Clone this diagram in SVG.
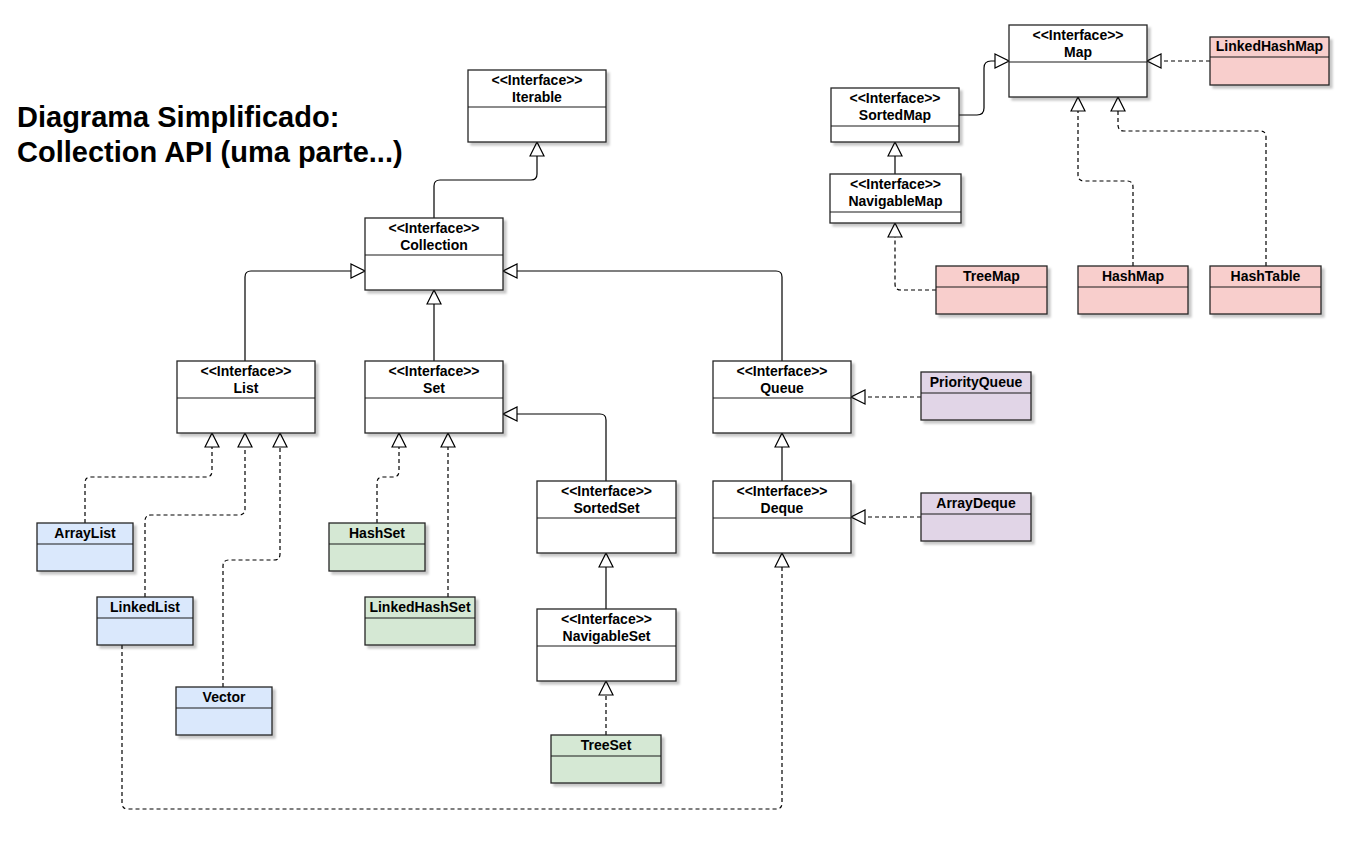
<svg xmlns="http://www.w3.org/2000/svg" width="1358" height="843" viewBox="0 0 1358 843">
<defs>
<style>
.box{stroke:#262626;stroke-width:1.3}
.iface{fill:#ffffff}
.blue{fill:#dae8fc}
.green{fill:#d5e8d4}
.pink{fill:#f8cecc}
.purple{fill:#e1d5e7}
.div{stroke:#1a1a1a;stroke-width:1.2}
.t{font-family:"Liberation Sans",Arial,Helvetica,sans-serif;font-size:14px;font-weight:bold;fill:#000;text-anchor:middle}
.title{font-family:"Liberation Sans",Arial,Helvetica,sans-serif;font-size:29px;font-weight:bold;fill:#000}
.c{fill:none;stroke:#000;stroke-width:1.2;marker-end:url(#tri)}
.d{stroke-dasharray:4 3}
</style>
<filter id="sh" x="-10%" y="-10%" width="130%" height="140%">
<feDropShadow dx="3" dy="3" stdDeviation="0.8" flood-color="#000" flood-opacity="0.22"/>
</filter>
<marker id="tri" markerUnits="userSpaceOnUse" viewBox="-1 -1 16 16" markerWidth="16" markerHeight="16" refX="14" refY="7" orient="auto">
<path d="M0,0 L14,7 L0,14 Z" fill="#fff" stroke="#000" stroke-width="1.2" stroke-dasharray="none"/>
</marker>
</defs>
<rect x="0" y="0" width="1358" height="843" fill="#fff"/>

<g id="title">
<text class="title" x="17" y="127">Diagrama Simplificado:</text>
<text class="title" x="17" y="162">Collection API (uma parte...)</text>
</g>

<g id="connectors">
<path class="c" d="M434,218 V186 Q434,180 440,180 H531 Q537,180 537,174 V142"/>
<path class="c" d="M245,361 V277 Q245,271 251,271 H365"/>
<path class="c" d="M434,361 V290"/>
<path class="c" d="M782,361 V277 Q782,271 776,271 H503"/>
<path class="c" d="M606,481 V420 Q606,414 600,414 H503"/>
<path class="c" d="M782,481 V433"/>
<path class="c" d="M606,609 V553"/>
<path class="c" d="M959,115 H977 Q984,115 984,108 V68 Q984,61 991,61 H1009"/>
<path class="c" d="M895,174 V142"/>
<path class="c d" d="M606,735 V681"/>
<path class="c d" d="M921,397 H851"/>
<path class="c d" d="M921,517 H851"/>
<path class="c d" d="M85,523 V483 Q85,477 91,477 H206 Q212,477 212,471 V433"/>
<path class="c d" d="M145,597 V521 Q145,515 151,515 H239 Q245,515 245,509 V433"/>
<path class="c d" d="M223,687 V566 Q223,560 229,560 H274 Q280,560 280,554 V433"/>
<path class="c d" d="M377,523 V483 Q377,477 383,477 H393 Q399,477 399,471 V433"/>
<path class="c d" d="M448,597 V433"/>
<path class="c d" d="M122,645 V803 Q122,809 128,809 H776 Q782,809 782,803 V553"/>
<path class="c d" d="M936,290 H901 Q895,290 895,284 V223"/>
<path class="c d" d="M1133,266 V187 Q1133,181 1127,181 H1084 Q1078,181 1078,175 V97"/>
<path class="c d" d="M1266,266 V137 Q1266,131 1260,131 H1124 Q1118,131 1118,125 V97"/>
<path class="c d" d="M1210,61 H1147"/>
</g>

<g id="Iterable">
<rect class="box iface" x="468" y="70" width="138" height="72" filter="url(#sh)"/>
<line class="div" x1="468" y1="107" x2="606" y2="107"/>
<text class="t" x="537" y="85">&lt;&lt;Interface&gt;&gt;</text>
<text class="t" x="537" y="102">Iterable</text>
</g>
<g id="Collection">
<rect class="box iface" x="365" y="218" width="138" height="72" filter="url(#sh)"/>
<line class="div" x1="365" y1="255" x2="503" y2="255"/>
<text class="t" x="434" y="233">&lt;&lt;Interface&gt;&gt;</text>
<text class="t" x="434" y="250">Collection</text>
</g>
<g id="List">
<rect class="box iface" x="177" y="361" width="138" height="72" filter="url(#sh)"/>
<line class="div" x1="177" y1="398" x2="315" y2="398"/>
<text class="t" x="246" y="376">&lt;&lt;Interface&gt;&gt;</text>
<text class="t" x="246" y="393">List</text>
</g>
<g id="Set">
<rect class="box iface" x="365" y="361" width="138" height="72" filter="url(#sh)"/>
<line class="div" x1="365" y1="398" x2="503" y2="398"/>
<text class="t" x="434" y="376">&lt;&lt;Interface&gt;&gt;</text>
<text class="t" x="434" y="393">Set</text>
</g>
<g id="Queue">
<rect class="box iface" x="713" y="361" width="138" height="72" filter="url(#sh)"/>
<line class="div" x1="713" y1="398" x2="851" y2="398"/>
<text class="t" x="782" y="376">&lt;&lt;Interface&gt;&gt;</text>
<text class="t" x="782" y="393">Queue</text>
</g>
<g id="SortedSet">
<rect class="box iface" x="537" y="481" width="139" height="72" filter="url(#sh)"/>
<line class="div" x1="537" y1="518" x2="676" y2="518"/>
<text class="t" x="606.5" y="496">&lt;&lt;Interface&gt;&gt;</text>
<text class="t" x="606.5" y="513">SortedSet</text>
</g>
<g id="Deque">
<rect class="box iface" x="713" y="481" width="138" height="72" filter="url(#sh)"/>
<line class="div" x1="713" y1="518" x2="851" y2="518"/>
<text class="t" x="782" y="496">&lt;&lt;Interface&gt;&gt;</text>
<text class="t" x="782" y="513">Deque</text>
</g>
<g id="NavigableSet">
<rect class="box iface" x="537" y="609" width="139" height="72" filter="url(#sh)"/>
<line class="div" x1="537" y1="646" x2="676" y2="646"/>
<text class="t" x="606.5" y="624">&lt;&lt;Interface&gt;&gt;</text>
<text class="t" x="606.5" y="641">NavigableSet</text>
</g>
<g id="Map">
<rect class="box iface" x="1009" y="25" width="138" height="72" filter="url(#sh)"/>
<line class="div" x1="1009" y1="62" x2="1147" y2="62"/>
<text class="t" x="1078" y="40">&lt;&lt;Interface&gt;&gt;</text>
<text class="t" x="1078" y="57">Map</text>
</g>
<g id="SortedMap">
<rect class="box iface" x="831" y="88" width="128" height="54" filter="url(#sh)"/>
<line class="div" x1="831" y1="126" x2="959" y2="126"/>
<text class="t" x="895" y="103">&lt;&lt;Interface&gt;&gt;</text>
<text class="t" x="895" y="120">SortedMap</text>
</g>
<g id="NavigableMap">
<rect class="box iface" x="830" y="174" width="131" height="49" filter="url(#sh)"/>
<line class="div" x1="830" y1="212" x2="961" y2="212"/>
<text class="t" x="895.5" y="189">&lt;&lt;Interface&gt;&gt;</text>
<text class="t" x="895.5" y="206">NavigableMap</text>
</g>

<g id="ArrayList">
<rect class="box blue" x="37" y="523" width="96" height="48" filter="url(#sh)"/>
<line class="div" x1="37" y1="544" x2="133" y2="544"/>
<text class="t" x="85" y="538">ArrayList</text>
</g>
<g id="LinkedList">
<rect class="box blue" x="97" y="597" width="96" height="48" filter="url(#sh)"/>
<line class="div" x1="97" y1="618" x2="193" y2="618"/>
<text class="t" x="145" y="612">LinkedList</text>
</g>
<g id="Vector">
<rect class="box blue" x="176" y="687" width="96" height="48" filter="url(#sh)"/>
<line class="div" x1="176" y1="708" x2="272" y2="708"/>
<text class="t" x="224" y="702">Vector</text>
</g>
<g id="HashSet">
<rect class="box green" x="329" y="523" width="96" height="48" filter="url(#sh)"/>
<line class="div" x1="329" y1="544" x2="425" y2="544"/>
<text class="t" x="377" y="538">HashSet</text>
</g>
<g id="LinkedHashSet">
<rect class="box green" x="365" y="597" width="110" height="48" filter="url(#sh)"/>
<line class="div" x1="365" y1="618" x2="475" y2="618"/>
<text class="t" x="420" y="612">LinkedHashSet</text>
</g>
<g id="TreeSet">
<rect class="box green" x="551" y="735" width="110" height="48" filter="url(#sh)"/>
<line class="div" x1="551" y1="756" x2="661" y2="756"/>
<text class="t" x="606" y="750">TreeSet</text>
</g>
<g id="PriorityQueue">
<rect class="box purple" x="921" y="372" width="110" height="48" filter="url(#sh)"/>
<line class="div" x1="921" y1="393" x2="1031" y2="393"/>
<text class="t" x="976" y="387">PriorityQueue</text>
</g>
<g id="ArrayDeque">
<rect class="box purple" x="921" y="493" width="110" height="48" filter="url(#sh)"/>
<line class="div" x1="921" y1="514" x2="1031" y2="514"/>
<text class="t" x="976" y="508">ArrayDeque</text>
</g>
<g id="LinkedHashMap">
<rect class="box pink" x="1210" y="37" width="119" height="48" filter="url(#sh)"/>
<line class="div" x1="1210" y1="57" x2="1329" y2="57"/>
<text class="t" x="1269.5" y="51">LinkedHashMap</text>
</g>
<g id="TreeMap">
<rect class="box pink" x="936" y="266" width="111" height="48" filter="url(#sh)"/>
<line class="div" x1="936" y1="287" x2="1047" y2="287"/>
<text class="t" x="991.5" y="281">TreeMap</text>
</g>
<g id="HashMap">
<rect class="box pink" x="1078" y="266" width="110" height="48" filter="url(#sh)"/>
<line class="div" x1="1078" y1="287" x2="1188" y2="287"/>
<text class="t" x="1133" y="281">HashMap</text>
</g>
<g id="HashTable">
<rect class="box pink" x="1210" y="266" width="111" height="48" filter="url(#sh)"/>
<line class="div" x1="1210" y1="287" x2="1321" y2="287"/>
<text class="t" x="1265.5" y="281">HashTable</text>
</g>
</svg>
